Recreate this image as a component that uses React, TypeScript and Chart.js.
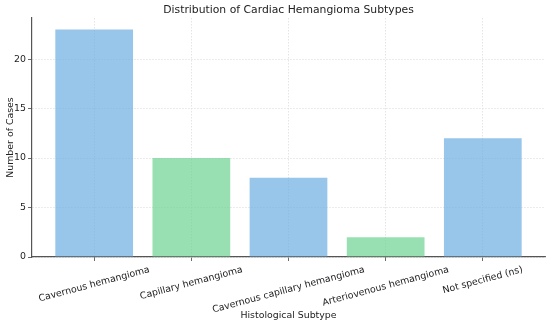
import React, { useEffect, useRef } from "react";
import { Chart, registerables } from "chart.js";

Chart.register(...registerables);

const categories = [
  "Cavernous hemangioma",
  "Capillary hemangioma",
  "Cavernous capillary hemangioma",
  "Arteriovenous hemangioma",
  "Not specified (ns)",
];
const caseCounts = [23, 10, 8, 2, 12];
const barColors = [
  "rgba(108,174,225,0.7)",
  "rgba(108,211,145,0.7)",
  "rgba(108,174,225,0.7)",
  "rgba(108,211,145,0.7)",
  "rgba(108,174,225,0.7)",
];
const yTicks = [0, 5, 10, 15, 20];
const chartTitle = "Distribution of Cardiac Hemangioma Subtypes";
const xTitle = "Histological Subtype";
const yTitle = "Number of Cases";

const FONT = "'DejaVu Sans', sans-serif";
const TICK_SIZE = 9.4;
const TEXT_COLOR = "#222222";

const labelPlugin = {
  id: "customLabels",
  afterDraw(chart: any) {
    const ctx = chart.ctx;
    const area = chart.chartArea;
    const xs = chart.scales.x;
    ctx.save();
    ctx.fillStyle = TEXT_COLOR;
    ctx.font = `10.8px ${FONT}`;
    ctx.textAlign = "center";
    ctx.textBaseline = "middle";
    ctx.fillText(chartTitle, (area.left + area.right) / 2, 10);
    ctx.font = `${TICK_SIZE}px ${FONT}`;
    const ang = (15 * Math.PI) / 180;
    const top = area.bottom + 8;
    categories.forEach((c, i) => {
      const x = xs.getPixelForValue(i);
      const w = ctx.measureText(c).width;
      const h = TICK_SIZE;
      const H = w * Math.sin(ang) + h * Math.cos(ang);
      ctx.save();
      ctx.translate(x, top + H / 2);
      ctx.rotate(-ang);
      ctx.textAlign = "center";
      ctx.textBaseline = "middle";
      ctx.fillText(c, 0, 0);
      ctx.restore();
    });
    ctx.textAlign = "center";
    ctx.textBaseline = "middle";
    ctx.fillText(xTitle, (area.left + area.right) / 2, 316);
    ctx.save();
    ctx.translate(10.5, (area.top + area.bottom) / 2);
    ctx.rotate(-Math.PI / 2);
    ctx.fillText(yTitle, 0, 0);
    ctx.restore();
    ctx.restore();
  },
};

export default function App() {
  const ref = useRef<HTMLCanvasElement | null>(null);
  useEffect(() => {
    document.body.style.margin = "0";
    if (!ref.current) return;
    const chart = new Chart(ref.current, {
      type: "bar",
      data: {
        datasets: [
          {
            data: caseCounts.map((v, i) => ({ x: i, y: v })),
            backgroundColor: barColors,
            borderWidth: 0,
            barPercentage: 0.8,
            categoryPercentage: 1,
          },
        ],
      },
      plugins: [labelPlugin],
      options: {
        responsive: false,
        animation: false,
        events: [],
        layout: { padding: { left: 0, right: 5, top: 18, bottom: 0 } },
        plugins: {
          legend: { display: false },
          title: { display: false },
          tooltip: { enabled: false },
        },
        scales: {
          x: {
            type: "linear",
            offset: false,
            min: -0.64,
            max: 4.64,
            afterBuildTicks: (axis: any) => {
              axis.ticks = categories.map((_, i) => ({ value: i }));
            },
            afterFit: (scale: any) => {
              scale.height = 68;
            },
            ticks: { display: false },
            grid: {
              offset: false,
              color: "#dedede",
              lineWidth: 0.8,
              drawTicks: true,
              tickLength: 4,
              tickColor: "#444",
              tickWidth: 0.8,
            },
            border: { display: true, color: "#555", width: 1.2, dash: [1.5, 1.5] },
          },
          y: {
            type: "linear",
            min: 0,
            max: 24.15,
            afterBuildTicks: (axis: any) => {
              axis.ticks = yTicks.map((v) => ({ value: v }));
            },
            afterFit: (scale: any) => {
              scale.width = 32;
            },
            ticks: {
              color: TEXT_COLOR,
              font: { family: FONT, size: TICK_SIZE },
              padding: 2,
            },
            grid: {
              color: "#dedede",
              lineWidth: 0.8,
              drawTicks: true,
              tickLength: 4,
              tickColor: "#444",
              tickWidth: 0.8,
            },
            border: { display: true, color: "#555", width: 1.2, dash: [1.5, 1.5] },
          },
        },
      },
    } as any);
    return () => chart.destroy();
  }, []);
  return (
    <div style={{ width: 550, height: 325 }}>
      <canvas ref={ref} width={550} height={325} style={{ display: "block" }} />
    </div>
  );
}
